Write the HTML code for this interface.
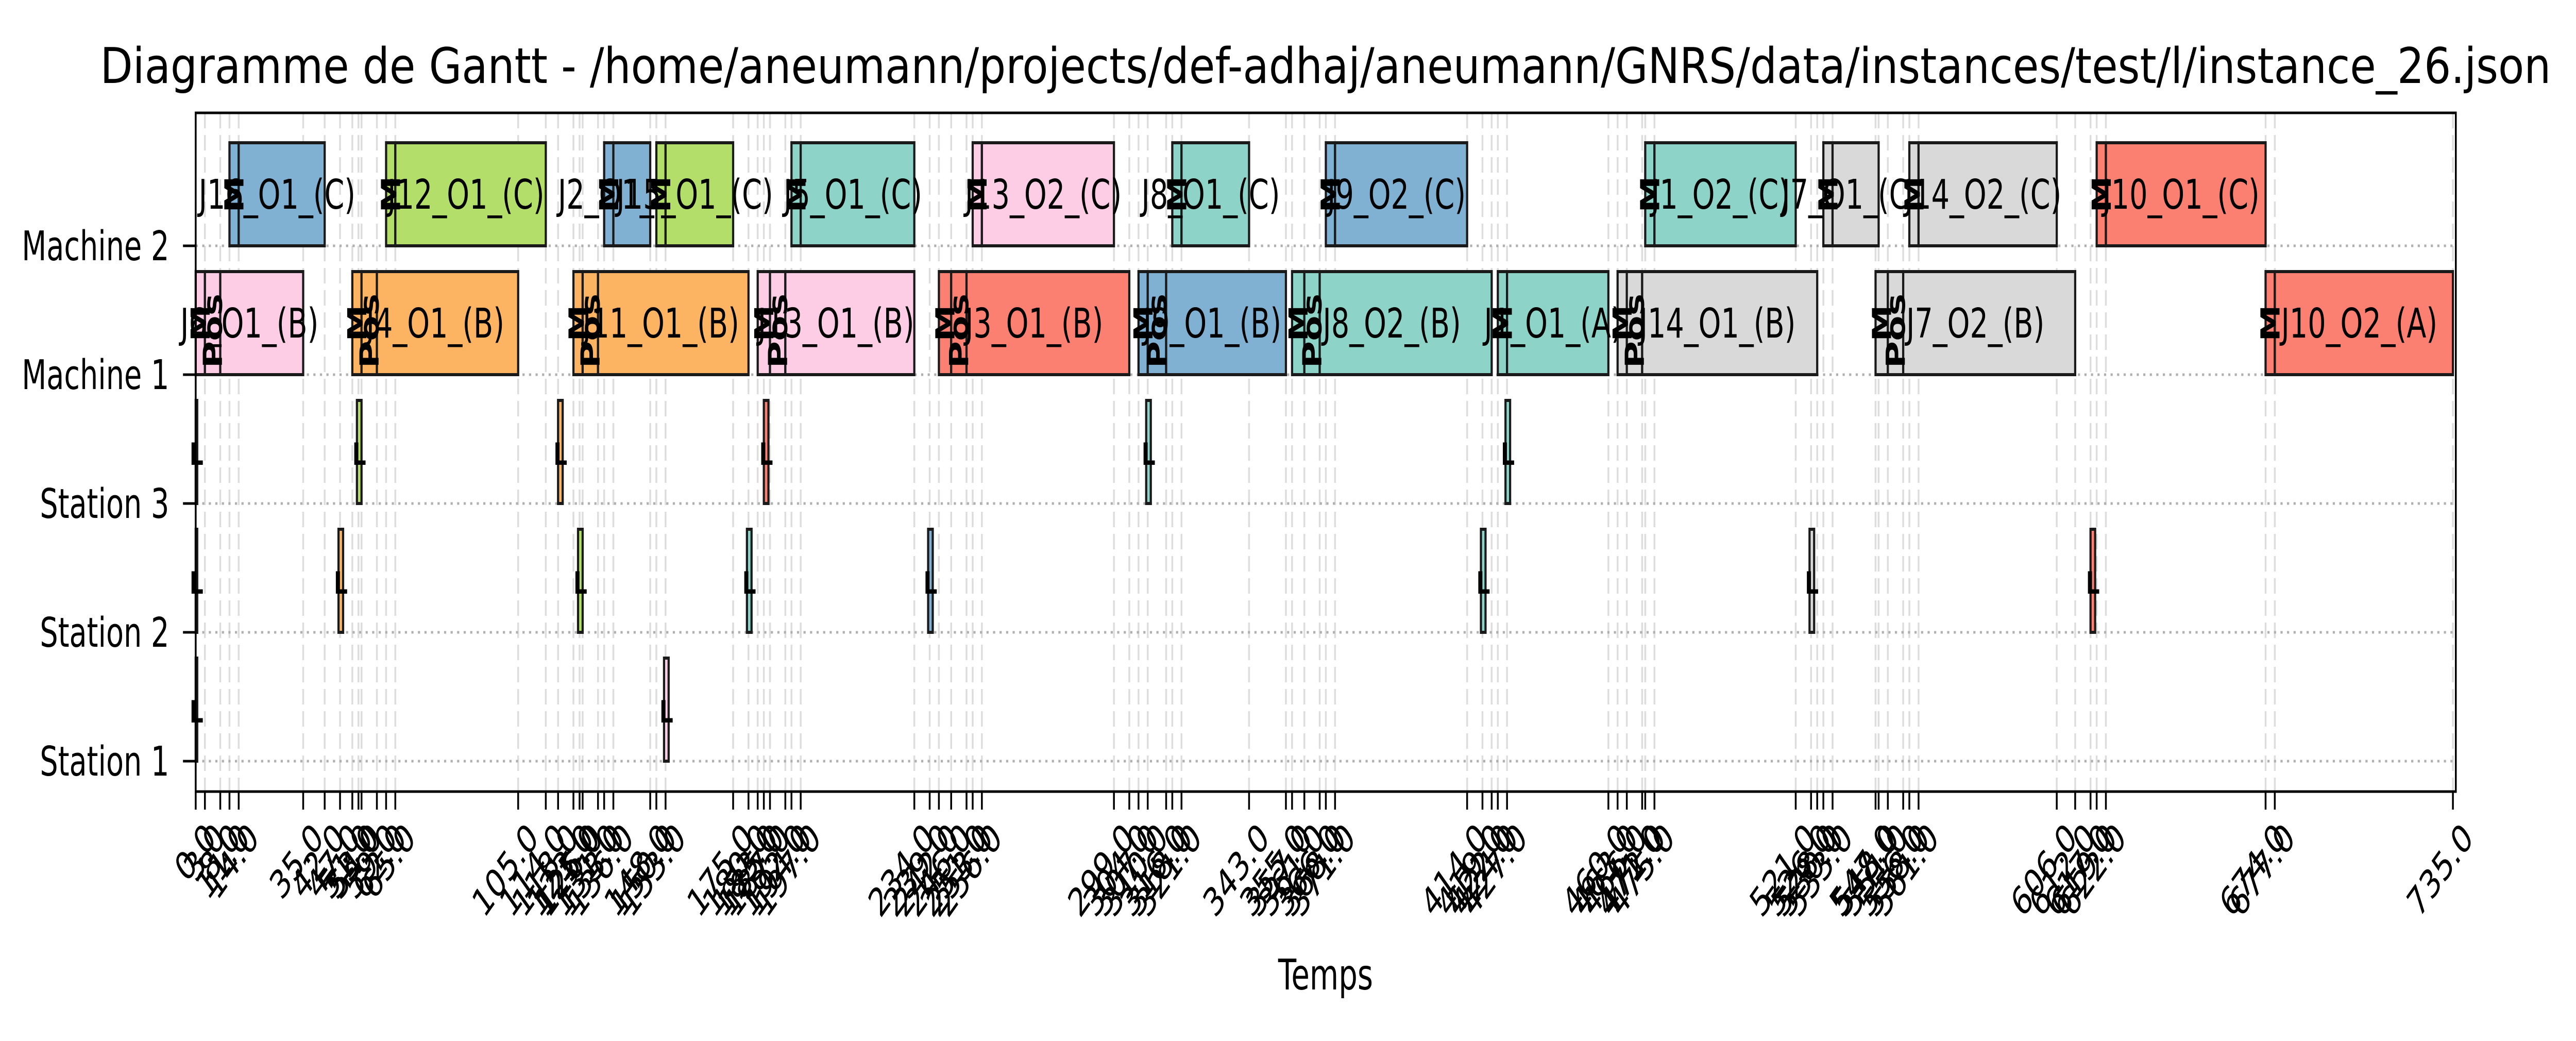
<!DOCTYPE html>
<html><head><meta charset="utf-8"><style>
html,body{margin:0;padding:0;background:#fff;overflow:hidden;width:100%;height:100%;}
svg{display:block;position:fixed;left:0;top:0;width:100vw;height:100vh;font-family:"DejaVu Sans","Liberation Sans",sans-serif;}
</style></head>
<body>
<svg id="chart" viewBox="0 0 7095 2020" preserveAspectRatio="none" xmlns="http://www.w3.org/2000/svg">
<rect x="0" y="0" width="7095" height="2020" fill="#fff"/>
<text x="3651" y="161" font-size="95" text-anchor="middle" textLength="6750" lengthAdjust="spacingAndGlyphs">Diagramme de Gantt - /home/aneumann/projects/def-adhaj/aneumann/GNRS/data/instances/test/l/instance_26.json</text>
<g id="grid"></g>
<g id="bars"></g>
<rect x="539" y="219" width="6225" height="1317" fill="none" stroke="#000" stroke-width="5"/>
<g id="axes"></g>
<text x="3651" y="1920" font-size="82" text-anchor="middle">Temps</text>
</svg>
<script>
// ---- data ----
const rowNames = ["Station 1","Station 2","Station 3","Machine 1","Machine 2"];
const m2Labels = ["J16_O1_(C)","J12_O1_(C)","J2_O1_(C)","J15_O1_(C)","J5_O1_(C)","J13_O2_(C)","J8_O1_(C)","J9_O2_(C)","J1_O2_(C)","J7_O1_(C)","J14_O2_(C)","J10_O1_(C)"];
const m2Jobs = [16,12,2,15,5,13,8,9,1,7,14,10];
const m2Start = [11,62,133,150,194,253,318,368,472,530,558,619];
const m2SetupEnd = [14,65,136,153,197,256,321,371,475,533,561,622];
const m2End = [42,114,148,175,234,299,343,414,521,548,606,674];
const m1Labels = ["J6_O1_(B)","J4_O1_(B)","J11_O1_(B)","J13_O1_(B)","J3_O1_(B)","J9_O1_(B)","J8_O2_(B)","J1_O1_(A)","J14_O1_(B)","J7_O2_(B)","J10_O2_(A)"];
const m1Jobs = [6,4,11,13,3,9,8,1,14,7,10];
const m1Start = [0,51,123,183,242,307,357,424,463,547,674];
const m1MEnd = [3,54,126,187,246,310,361,427,466,551,677];
const m1PosEnd = [8,59,131,192,251,316,366,427,471,556,677];
const m1End = [35,105,180,234,304,355,422,460,528,612,735];
const stRow = [0,1,2, 2,2,2,2,2, 1,1,1,1,1,1,1, 0];
const stJob = [0,0,0, 12,11,3,8,1, 4,12,5,2,1,7,10, 13];
const stStart = [0,0,0, 52.5,118,185,309.5,426.5, 46.5,124.5,179.5,238.5,418.5,525.5,617, 152.5];
const stEnd = [0.5,0.5,0.5, 54,119.5,186.5,311,428, 48,126,181,240,420,527,618.5, 154];
const jobColors = {0:"#000000",1:"#8dd3c7",2:"#80b1d3",3:"#fb8072",4:"#fdb462",5:"#8dd3c7",6:"#fccde5",7:"#d9d9d9",8:"#8dd3c7",9:"#80b1d3",10:"#fb8072",11:"#fdb462",12:"#b3de69",13:"#fccde5",14:"#d9d9d9",15:"#b3de69",16:"#80b1d3"};

// ---- axes ----
const X0=539, XS=(6756-539)/735;
function xs(t){return X0+t*XS;}
function ys(r){return 1477-r*250;}
const NS="http://www.w3.org/2000/svg";
function mk(tag,attrs,parent,txt){const e=document.createElementNS(NS,tag);for(const k in attrs)e.setAttribute(k,attrs[k]);if(txt!==undefined)e.textContent=txt;parent.appendChild(e);return e;}
const grid=document.getElementById('grid'), bars=document.getElementById('bars'), axes=document.getElementById('axes');

let ticks=new Set([0,735]);
[m2Start,m2SetupEnd,m2End,m1Start,m1MEnd,m1PosEnd,m1End,stStart].forEach(a=>a.forEach(v=>ticks.add(Math.round(v))));
ticks=[...ticks].sort((a,b)=>a-b);
ticks.forEach(t=>{
  const x=xs(t);
  const g=mk('line',{x1:x,x2:x,y1:219,y2:1536,stroke:"#dddddd","stroke-width":5,"stroke-dasharray":"30 13"},grid);
  
  
  const tk=mk('line',{x1:x,x2:x,y1:1536,y2:1571,stroke:"#000","stroke-width":5},axes);
  
  
  const lb=mk('text',{transform:`translate(${x+20},1590) rotate(-45)`,"font-size":76,"text-anchor":"end","dominant-baseline":"hanging"},axes,t.toFixed(1));
  
  
});
rowNames.forEach((n,i)=>{
  const y=ys(i);
  const g=mk('line',{x1:539,x2:6764,y1:y,y2:y,stroke:"#b0b0b0","stroke-width":5,"stroke-dasharray":"6 12"},grid);
  
  
  const tk=mk('line',{x1:504,x2:539,y1:y,y2:y,stroke:"#000","stroke-width":5},axes);
  
  
  const lb=mk('text',{x:466,y:y+28,"font-size":79,"text-anchor":"end"},axes,n);
  
  
});

function rect(t0,t1,r,color,name){
  const y=ys(r);
  const e=mk('rect',{x:xs(t0),y:y-200,width:Math.max(xs(t1)-xs(t0),1),height:200,fill:color,stroke:"#1a1a1a","stroke-width":6},bars);
  
  
  return e;
}
function vtext(x,y,s,name){
  const e=mk('text',{transform:`translate(${x+26},${y}) rotate(-90)`,"font-size":72,"font-weight":"bold","text-anchor":"middle"},bars,s);
  
  
}
m2Labels.forEach((l,i)=>{
  const c=jobColors[m2Jobs[i]];
  rect(m2Start[i],m2SetupEnd[i],4,c,'setup-bar');
  rect(m2SetupEnd[i],m2End[i],4,c,'operation-bar');
  vtext((xs(m2Start[i])+xs(m2SetupEnd[i]))/2,ys(4)-100,"M",'setup-marker');
  const t=mk('text',{x:(xs(m2Start[i])+xs(m2End[i]))/2,y:ys(4)-72,"font-size":79,"text-anchor":"middle"},bars,l);
  
  
});
m1Labels.forEach((l,i)=>{
  const c=jobColors[m1Jobs[i]];
  rect(m1Start[i],m1MEnd[i],3,c,'setup-bar');
  if(m1PosEnd[i]>m1MEnd[i]) rect(m1MEnd[i],m1PosEnd[i],3,c,'positioning-bar');
  rect(m1PosEnd[i],m1End[i],3,c,'operation-bar');
  vtext((xs(m1Start[i])+xs(m1MEnd[i]))/2,ys(3)-100,"M",'setup-marker');
  if(m1PosEnd[i]>m1MEnd[i]) vtext((xs(m1MEnd[i])+xs(m1PosEnd[i]))/2,ys(3)-85,"Pos",'positioning-marker');
  const t=mk('text',{x:(xs(m1Start[i])+xs(m1End[i]))/2,y:ys(3)-72,"font-size":79,"text-anchor":"middle"},bars,l);
  
  
});
stRow.forEach((r,i)=>{
  rect(stStart[i],stEnd[i],r,jobColors[stJob[i]],'station-bar');
  const t=mk('text',{x:(xs(stStart[i])+xs(stEnd[i]))/2,y:ys(r)-75,"font-size":60,"font-weight":"bold","text-anchor":"middle"},bars,"L");
  
  
});
</script>
</body></html>
